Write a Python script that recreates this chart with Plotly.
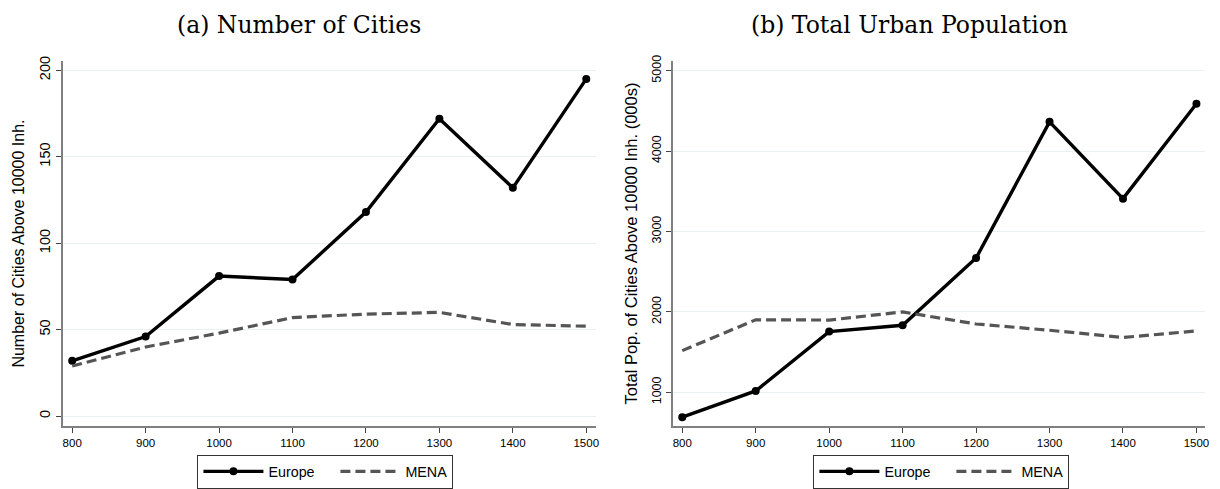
import plotly.graph_objects as go

# Data: cities above 10,000 inhabitants, Europe vs. MENA
years = [800, 900, 1000, 1100, 1200, 1300, 1400, 1500]
europe_cities = [32, 46, 81, 79, 118, 172, 132, 195]
mena_cities = [29, 40, 48, 57, 59, 60, 53, 52]
europe_pop = [690, 1016, 1754, 1833, 2669, 4363, 3408, 4588]
mena_pop = [1518, 1901, 1898, 1999, 1849, 1771, 1681, 1763]

x_ticks = [800, 900, 1000, 1100, 1200, 1300, 1400, 1500]
y1_ticks = [0, 50, 100, 150, 200]
y2_ticks = [1000, 2000, 3000, 4000, 5000]

panel_titles = ["(a) Number of Cities", "(b) Total Urban Population"]
y_titles = ["Number of Cities Above 10000 Inh.",
            "Total Pop. of Cities Above 10000 Inh. (000s)"]

W, H = 1220, 489
EUR_COLOR = "black"
MENA_COLOR = "#555555"
GRID = "#e8f0f1"
AXIS = "#808080"
SANS = "Arial, Liberation Sans, sans-serif"
SERIF = "DejaVu Serif, serif"

fig = go.Figure()

def add_series(y_eur, y_mena, xa, ya, legend):
    # non-breaking spaces widen the gap between the two legend entries
    fig.add_trace(go.Scatter(
        x=years, y=y_eur, name="Europe\u00a0\u00a0\u00a0\u00a0", mode="lines+markers",
        line=dict(color=EUR_COLOR, width=3.4),
        marker=dict(color=EUR_COLOR, size=8),
        xaxis=xa, yaxis=ya, legend=legend))
    fig.add_trace(go.Scatter(
        x=years, y=y_mena, name="MENA", mode="lines",
        line=dict(color=MENA_COLOR, width=3.2, dash="10px,5px"),
        xaxis=xa, yaxis=ya, legend=legend))

add_series(europe_cities, mena_cities, "x", "y", "legend")
add_series(europe_pop, mena_pop, "x2", "y2", "legend2")

def px_x(a, b):
    return [a / W, b / W]

ydom = [(H - 427) / H, (H - 56) / H]

common_x = dict(
    tickmode="array", tickvals=x_ticks, showgrid=False, zeroline=False,
    showline=True, linecolor=AXIS, linewidth=1.5,
    ticks="outside", ticklen=5, tickcolor="#444", tickwidth=1,
    tickfont=dict(family=SANS, size=11.5, color="black"),
    fixedrange=True,
)
common_y = dict(
    showgrid=True, gridcolor=GRID, gridwidth=1, zeroline=False,
    showline=True, linecolor=AXIS, linewidth=1.5,
    ticks="outside", ticklen=5, tickcolor="#444", tickwidth=1,
    tickangle=-90, fixedrange=True,
)

legend_common = dict(
    orientation="h", y=1 - 456 / H, yanchor="top", xanchor="center",
    bordercolor="#333", borderwidth=1, itemwidth=60,
    font=dict(family=SANS, size=14.3), itemclick=False,
)

fig.update_layout(
    width=W, height=H,
    margin=dict(l=0, r=0, t=0, b=0),
    plot_bgcolor="white", paper_bgcolor="white",
    font=dict(family=SANS, color="black"),
    xaxis=dict(common_x, domain=px_x(63, 598), anchor="y", range=[787.2, 1513.3]),
    yaxis=dict(common_y, domain=ydom, anchor="x", range=[-5.7, 205.3],
               tickmode="array", tickvals=y1_ticks,
               tickfont=dict(size=14.5),
               title=dict(text=y_titles[0], font=dict(size=16), standoff=9)),
    xaxis2=dict(common_x, domain=px_x(675, 1209), anchor="y2", range=[787.1, 1511.7]),
    yaxis2=dict(common_y, domain=ydom, anchor="x2", range=[580, 5119],
                tickmode="array", tickvals=y2_ticks,
                tickfont=dict(size=12.5),
                title=dict(text=y_titles[1], font=dict(size=16.5), standoff=8)),
    legend=dict(legend_common, x=326.5 / W),
    legend2=dict(legend_common, x=944.5 / W),
    annotations=[
        dict(text=panel_titles[0], x=300 / W, y=1 - 19 / H, xref="paper", yref="paper",
             showarrow=False, xanchor="center", yanchor="middle",
             font=dict(family=SERIF, size=23.5)),
        dict(text=panel_titles[1], x=912 / W, y=1 - 19 / H, xref="paper", yref="paper",
             showarrow=False, xanchor="center", yanchor="middle",
             font=dict(family=SERIF, size=23.5)),
    ],
)

fig.write_html("out.html")
